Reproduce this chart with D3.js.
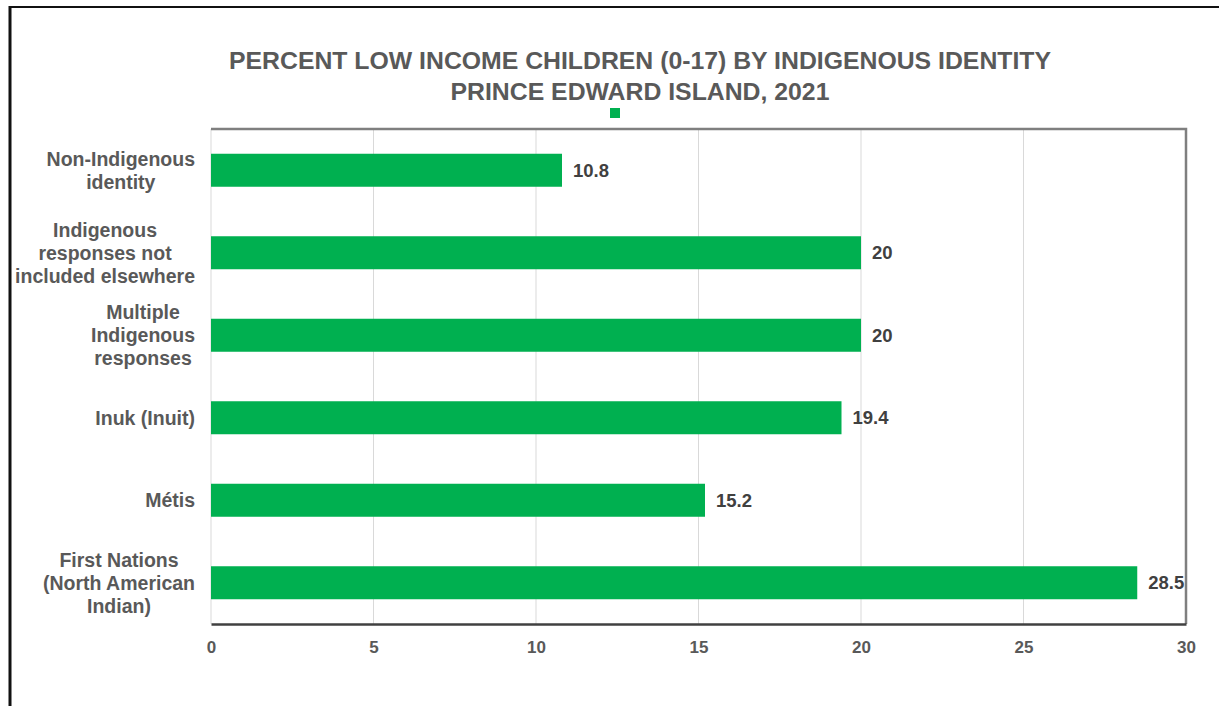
<!DOCTYPE html>
<html>
<head>
<meta charset="utf-8">
<script src="https://cdn.jsdelivr.net/npm/d3@7"></script>
<style>
  body { margin: 0; background: #fff; }
  text { font-family: "Liberation Sans", Arial, sans-serif; font-weight: bold; }
</style>
</head>
<body>
<div class="chart"></div>
<script>
var svgWidth = 1219;
var svgHeight = 706;

// data
var categories = [
  ["Non-Indigenous", "identity"],
  ["Indigenous", "responses not", "included elsewhere"],
  ["Multiple", "Indigenous", "responses"],
  ["Inuk (Inuit)"],
  ["Métis"],
  ["First Nations", "(North American", "Indian)"]
];
var values = [10.8, 20, 20, 19.4, 15.2, 28.5];
var valueLabels = ["10.8", "20", "20", "19.4", "15.2", "28.5"];
var xTicks = [0, 5, 10, 15, 20, 25, 30];
var titleLines = ["PERCENT LOW INCOME CHILDREN (0-17) BY INDIGENOUS IDENTITY", "PRINCE EDWARD ISLAND, 2021"];

var margin = { top: 129, right: 33, bottom: 82, left: 211 };
var width = svgWidth - margin.left - margin.right;
var height = svgHeight - margin.top - margin.bottom;

var green = "#00b050";
var textGray = "#595959";

var svg = d3.select(".chart")
  .append("svg")
  .attr("width", svgWidth)
  .attr("height", svgHeight);

// outer frame (top and left only)
svg.append("line").attr("x1", 9).attr("x2", svgWidth).attr("y1", 7).attr("y2", 7)
  .attr("stroke", "#111").attr("stroke-width", 2);
svg.append("line").attr("x1", 10).attr("x2", 10).attr("y1", 6).attr("y2", svgHeight)
  .attr("stroke", "#111").attr("stroke-width", 3);

// title
svg.selectAll(".title")
  .data(titleLines)
  .enter()
  .append("text")
  .attr("class", "title")
  .attr("x", 640)
  .attr("y", (d, i) => 69 + i * 31)
  .attr("text-anchor", "middle")
  .attr("fill", textGray)
  .style("font-size", "24.8px")
  .text(d => d);

// legend marker
svg.append("rect")
  .attr("x", 610).attr("y", 108).attr("width", 10).attr("height", 10)
  .attr("fill", green);

var chartGroup = svg.append("g")
  .attr("transform", `translate(${margin.left}, ${margin.top})`);

var xScale = d3.scaleLinear().domain([0, 30]).range([0, width]);
var yScale = d3.scaleBand()
  .domain(d3.range(values.length))
  .range([0, height])
  .paddingInner(0.6)
  .paddingOuter(0.3);

// gridlines
chartGroup.selectAll(".grid")
  .data(xTicks)
  .enter()
  .append("line")
  .attr("x1", d => xScale(d))
  .attr("x2", d => xScale(d))
  .attr("y1", 0)
  .attr("y2", height)
  .attr("stroke", "#d9d9d9")
  .attr("stroke-width", 1);

// bars
chartGroup.selectAll(".bar")
  .data(values)
  .enter()
  .append("rect")
  .attr("class", "bar")
  .attr("x", 0)
  .attr("y", (d, i) => yScale(i))
  .attr("width", d => xScale(d))
  .attr("height", yScale.bandwidth())
  .attr("fill", green);

// value labels
chartGroup.selectAll(".val")
  .data(values)
  .enter()
  .append("text")
  .attr("x", d => xScale(d) + 11)
  .attr("y", (d, i) => yScale(i) + yScale.bandwidth() / 2)
  .attr("dy", "0.35em")
  .attr("fill", "#404040")
  .style("font-size", "18.5px")
  .text((d, i) => valueLabels[i]);

// plot frame: top, right, bottom
chartGroup.append("path")
  .attr("d", `M0,0H${width}V${height}`)
  .attr("fill", "none")
  .attr("stroke", "#7f7f7f")
  .attr("stroke-width", 2.5);

// x axis
var bottomAxis = d3.axisBottom(xScale).tickValues(xTicks).tickSize(0).tickPadding(17);
var xAxis = chartGroup.append("g")
  .attr("transform", `translate(0, ${height})`)
  .call(bottomAxis);
xAxis.select(".domain").attr("stroke", "#404040").attr("stroke-width", 2.5);
xAxis.selectAll("text")
  .attr("fill", textGray)
  .style("font-size", "17px")
  .style("font-family", "'Liberation Sans', Arial, sans-serif");

// y category labels (multi-line, centred block, right edge near the axis)
var yLabels = chartGroup.selectAll(".cat")
  .data(categories)
  .enter()
  .append("text")
  .attr("class", "cat")
  .attr("text-anchor", "middle")
  .attr("fill", textGray)
  .style("font-size", "19.5px");

yLabels.each(function(lines, i) {
  var cy = yScale(i) + yScale.bandwidth() / 2;
  var lh = 23;
  var top = cy - (lines.length - 1) * lh / 2;
  d3.select(this).selectAll("tspan")
    .data(lines)
    .enter()
    .append("tspan")
    .attr("x", -105)
    .attr("y", (d, j) => top + j * lh)
    .attr("dy", "0.35em")
    .text(d => d);
});

yLabels.each(function() {
  var t = d3.select(this);
  var maxW = 0;
  t.selectAll("tspan").each(function() { maxW = Math.max(maxW, this.getComputedTextLength()); });
  t.selectAll("tspan").attr("x", -16 - maxW / 2);
});
</script>
</body>
</html>
